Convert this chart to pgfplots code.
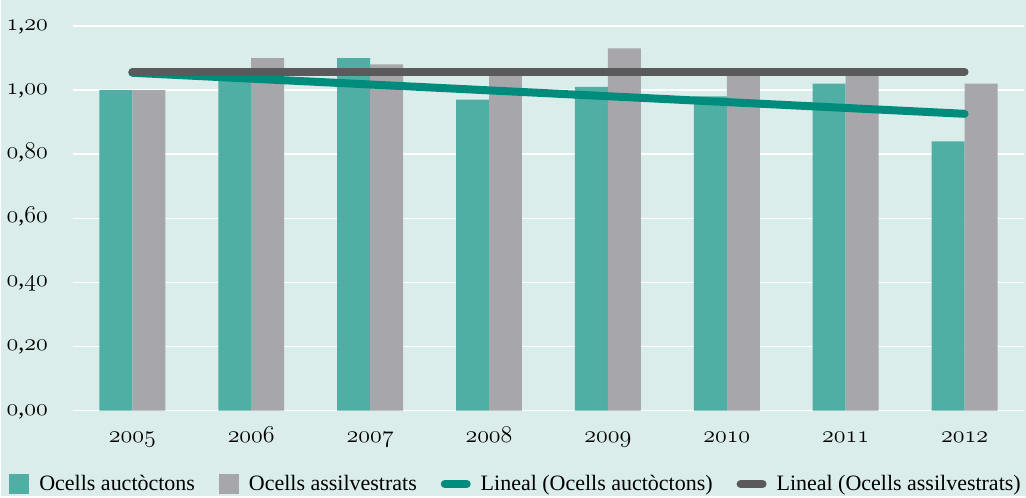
\documentclass[border=0pt]{standalone}
\usepackage{pgfplots}
\pgfplotsset{compat=1.18}
\usepackage{fontspec}
\setmainfont{Liberation Serif}
\usetikzlibrary{backgrounds}

\definecolor{bgc}{RGB}{218,237,235}
\definecolor{tealbar}{RGB}{79,175,165}
\definecolor{graybar}{RGB}{167,167,171}
\definecolor{tealline}{RGB}{0,140,125}
\definecolor{grayline}{RGB}{90,90,92}

\newcommand{\osn}[1]{\legacyoldstylenums{#1}}

\begin{document}
\begin{tikzpicture}
\begin{axis}[
    name=ax,
    scale only axis,
    width=476pt, height=192.5pt,
    xmin=-0.5, xmax=7.5,
    ymin=0, ymax=1.2,
    axis line style={draw=none},
    xtick={0,1,2,3,4,5,6,7},
    xticklabels={\osn{2005},\osn{2006},\osn{2007},\osn{2008},\osn{2009},\osn{2010},\osn{2011},\osn{2012}},
    ytick={0,0.2,0.4,0.6,0.8,1.0,1.2},
    yticklabels={{\osn{0},\osn{00}}, {\osn{0},\osn{20}}, {\osn{0},\osn{40}}, {\osn{0},\osn{60}}, {\osn{0},\osn{80}}, {\osn{1},\osn{00}}, {\osn{1},\osn{20}}},
    major tick length=0pt,
    ticklabel style={font=\fontsize{12}{14}\selectfont},
    yticklabel style={anchor=base east, xshift=-9pt, yshift=-2.2pt},
    xticklabel style={anchor=base, yshift=-16pt},
    ymajorgrids=true,
    grid style={white, line width=0.75pt},
    legend columns=4,
    legend style={
        at={(axis description cs:0,0)}, anchor=north west,
        xshift=-32pt, yshift=-30pt,
        draw=none, fill=none, inner sep=0pt,
        font=\fontsize{11}{13}\selectfont,
        column sep=0pt,
        /tikz/every even column/.append style={column sep=10pt},
        /tikz/every odd column/.append style={column sep=3pt},
    },
]

\addplot[ybar, bar width=16.5pt, bar shift=-8.25pt, fill=tealbar, draw=none,
    legend image code/.code={\fill[tealbar] (0pt,-5pt) rectangle (10pt,5pt);}]
coordinates {
(0,1.00)(1,1.04)(2,1.10)(3,0.97)(4,1.01)(5,0.98)(6,1.02)(7,0.84)
};
\addplot[ybar, bar width=16.5pt, bar shift=8.25pt, fill=graybar, draw=none,
    legend image code/.code={\fill[graybar] (0pt,-5pt) rectangle (10pt,5pt);}]
coordinates {
(0,1.00)(1,1.10)(2,1.08)(3,1.05)(4,1.13)(5,1.05)(6,1.06)(7,1.02)
};
\addplot[tealline, line width=4pt, line cap=round, mark=none,
    legend image code/.code={\draw[tealline, line width=4pt, line cap=round] (2pt,0pt) -- (13pt,0pt);}]
coordinates {
(0,1.054)(7,0.926)
};
\addplot[grayline, line width=4pt, line cap=round, mark=none,
    legend image code/.code={\draw[grayline, line width=4pt, line cap=round] (2pt,0pt) -- (13pt,0pt);}]
coordinates {
(0,1.057)(7,1.057)
};

\legend{Ocells auctòctons, Ocells assilvestrats, Lineal (Ocells auctòctons), Lineal (Ocells assilvestrats)}
\end{axis}
\begin{scope}[on background layer]
\fill[bgc] ([xshift=-36pt,yshift=-42.5pt]ax.south west) rectangle ([xshift=1pt,yshift=13pt]ax.north east);
\end{scope}
\end{tikzpicture}
\end{document}
